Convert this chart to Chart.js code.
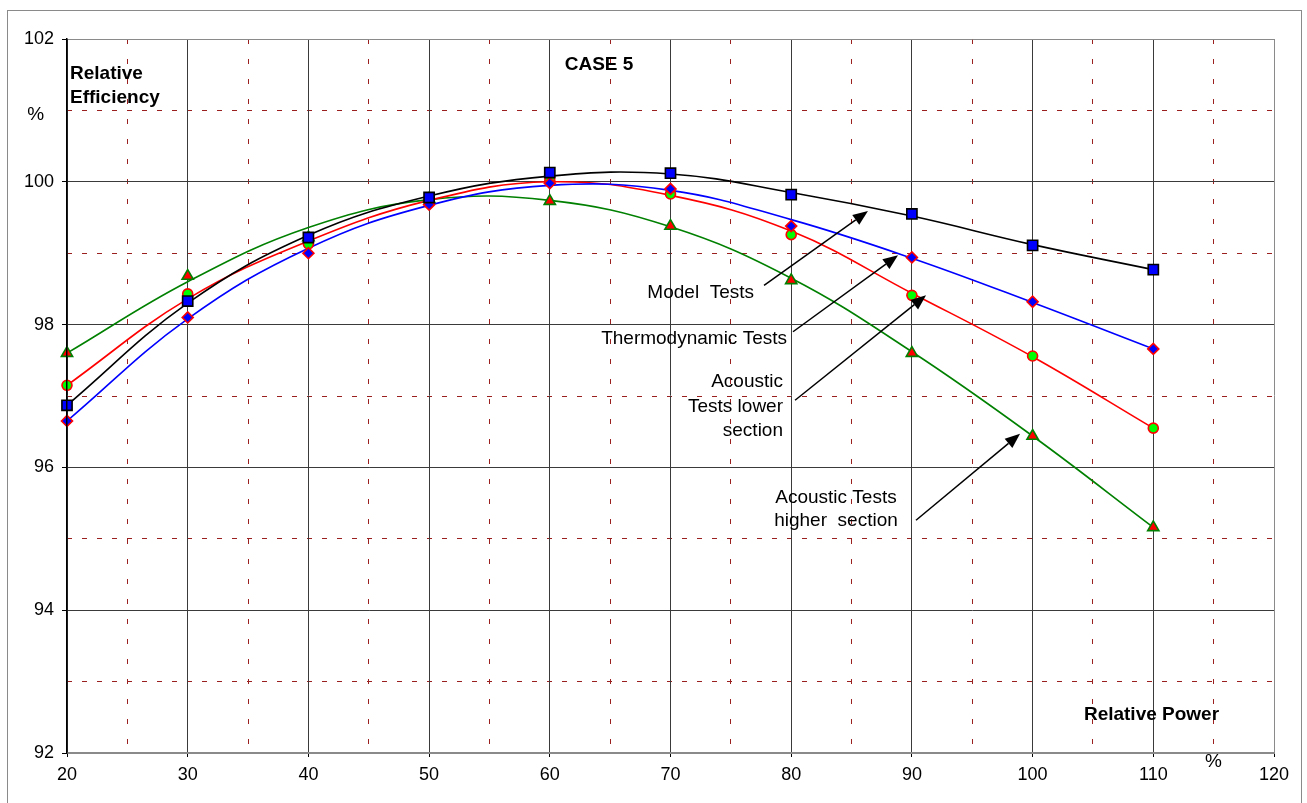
<!DOCTYPE html>
<html>
<head>
<meta charset="utf-8">
<script src="https://cdn.jsdelivr.net/npm/chart.js@4.4.0/dist/chart.umd.min.js"></script>
<style>
html,body{margin:0;padding:0;background:#fff;}
#wrap{position:relative;width:1307px;height:803px;}
</style>
</head>
<body>
<div id="wrap"><canvas id="c" width="1307" height="803"></canvas></div>
<script>
// ---- data ----
const relativePower = [20, 30, 40, 50, 60, 70, 80, 90, 100, 110];

// measured points (markers)
const modelTests      = [96.87, 98.33, 99.22, 99.78, 100.13, 100.12, 99.82, 99.55, 99.11, 98.77];
const thermoTests     = [96.65, 98.10, 99.00, 99.68, 99.98, 99.90, 99.38, 98.94, 98.32, 97.66];
const acousticLower   = [97.15, 98.43, 99.13, 99.75, 100.02, 99.83, 99.26, 98.41, 97.56, 96.55];
const acousticHigher  = [97.60, 98.68, 99.22, 99.76, 99.73, 99.38, 98.62, 97.60, 96.44, 95.16];

// smoothed trend curves (read at the same x positions)
const modelCurve      = [96.87, 98.30, 99.25, 99.80, 100.08, 100.11, 99.85, 99.52, 99.12, 98.77];
const thermoCurve     = [96.65, 98.08, 99.07, 99.67, 99.95, 99.88, 99.47, 98.93, 98.31, 97.66];
const lowerCurve      = [97.15, 98.36, 99.17, 99.74, 100.00, 99.81, 99.31, 98.44, 97.55, 96.55];
const higherCurve     = [97.60, 98.60, 99.36, 99.75, 99.74, 99.37, 98.65, 97.62, 96.44, 95.16];

const xTicks = [20, 30, 40, 50, 60, 70, 80, 90, 100, 110, 120];
const yTicks = [92, 94, 96, 98, 100, 102];

// annotation texts (in data units)
const textNotes = [
  {t: 'Relative',   x: 20.25, y: 101.52, align: 'left',  bold: true},
  {t: 'Efficiency', x: 20.25, y: 101.17, align: 'left',  bold: true},
  {t: '%',          x: 17.40, y: 100.94, align: 'center', bold: false},
  {t: 'CASE 5',     x: 64.08, y: 101.64, align: 'center', bold: true},
  {t: 'Relative Power', x: 109.85, y: 92.53, align: 'center', bold: true},
  {t: '%',          x: 114.99, y: 91.88, align: 'center', bold: false},
  {t: 'Model  Tests', x: 76.92, y: 98.44, align: 'right', bold: false},
  {t: 'Thermodynamic Tests', x: 79.65, y: 97.80, align: 'right', bold: false},
  {t: 'Acoustic',    x: 79.32, y: 97.20, align: 'right', bold: false},
  {t: 'Tests lower', x: 79.32, y: 96.85, align: 'right', bold: false},
  {t: 'section',     x: 79.32, y: 96.51, align: 'right', bold: false},
  {t: 'Acoustic Tests',   x: 83.71, y: 95.58, align: 'center', bold: false},
  {t: 'higher  section',  x: 83.71, y: 95.25, align: 'center', bold: false}
];
const arrowNotes = [
  {x1: 77.75, y1: 98.55, x2: 86.36, y2: 99.59},
  {x1: 80.15, y1: 97.90, x2: 88.85, y2: 98.97},
  {x1: 80.32, y1: 96.94, x2: 91.17, y2: 98.41},
  {x1: 90.34, y1: 95.26, x2: 98.96, y2: 96.47}
];

const FONT = "'Liberation Sans', Arial, Helvetica, sans-serif";
const pts = arr => relativePower.map((x, i) => ({x: x, y: arr[i]}));

const frameAndNotes = {
  id: 'frameAndNotes',
  beforeDraw(chart) {
    const ctx = chart.ctx;
    ctx.save();
    ctx.fillStyle = '#fff';
    ctx.fillRect(0, 0, chart.width, chart.height);
    ctx.strokeStyle = '#8a8a8a';
    ctx.lineWidth = 1;
    ctx.strokeRect(7.5, 10.5, 1294, 800);
    ctx.restore();
  },
  afterDraw(chart) {
    const ctx = chart.ctx;
    const xs = chart.scales.x, ys = chart.scales.y;
    ctx.save();
    ctx.fillStyle = '#000';
    ctx.textBaseline = 'middle';
    textNotes.forEach(n => {
      ctx.font = (n.bold ? 'bold ' : '') + '19px ' + FONT;
      ctx.textAlign = n.align;
      ctx.fillText(n.t, xs.getPixelForValue(n.x), ys.getPixelForValue(n.y));
    });
    ctx.strokeStyle = '#000';
    ctx.lineWidth = 1.5;
    arrowNotes.forEach(a => {
      const px1 = xs.getPixelForValue(a.x1), py1 = ys.getPixelForValue(a.y1);
      const px2 = xs.getPixelForValue(a.x2), py2 = ys.getPixelForValue(a.y2);
      const ang = Math.atan2(py2 - py1, px2 - px1);
      const L = 15, W = 6;
      const bx = px2 - L * Math.cos(ang), by = py2 - L * Math.sin(ang);
      ctx.beginPath();
      ctx.moveTo(px1, py1);
      ctx.lineTo(bx, by);
      ctx.stroke();
      ctx.beginPath();
      ctx.moveTo(px2, py2);
      ctx.lineTo(bx + W * Math.sin(ang), by - W * Math.cos(ang));
      ctx.lineTo(bx - W * Math.sin(ang), by + W * Math.cos(ang));
      ctx.closePath();
      ctx.fill();
    });
    ctx.restore();
  }
};

const lineDs = (data, color) => ({
  type: 'line', data: pts(data), borderColor: color, borderWidth: 1.6,
  pointRadius: 0, tension: 0.4, fill: false, clip: false
});
const markDs = (data, style, fill, edge, r) => ({
  type: 'line', data: pts(data), showLine: false, pointStyle: style,
  pointRadius: r, pointBackgroundColor: fill, pointBorderColor: edge,
  pointBorderWidth: 1.6, borderColor: edge, backgroundColor: fill, clip: false
});

new Chart(document.getElementById('c'), {
  type: 'line',
  data: {
    datasets: [
      markDs(modelTests, 'rect', '#0000FF', '#000000', 7.2),
      markDs(thermoTests, 'rectRot', '#0000FF', '#FF0000', 5.5),
      markDs(acousticLower, 'circle', '#00FF00', '#FF0000', 5),
      markDs(acousticHigher, 'triangle', '#FF0000', '#008000', 6.5),
      lineDs(modelCurve, '#000000'),
      lineDs(thermoCurve, '#0000FF'),
      lineDs(lowerCurve, '#FF0000'),
      lineDs(higherCurve, '#008000')
    ]
  },
  options: {
    responsive: false,
    devicePixelRatio: 1,
    animation: false,
    layout: {padding: {top: 39, right: 33, left: 0, bottom: 0}},
    plugins: {legend: {display: false}, tooltip: {enabled: false}, title: {display: false}},
    scales: {
      x: {
        type: 'linear', position: 'bottom', min: 20, max: 120, weight: 2,
        afterBuildTicks: s => { s.ticks = xTicks.map(v => ({value: v})); },
        afterFit: s => { s.height = 50; },
        ticks: {color: '#000', font: {family: FONT, size: 18}, padding: 7, maxRotation: 0},
        grid: {
          color: c => (c.tick && c.tick.value === 120) ? '#8a8a8a' : '#3a3a3a',
          lineWidth: 1, tickLength: 4, tickColor: '#000', z: 0
        },
        border: {display: true, color: '#8a8a8a', width: 2, z: 1}
      },
      xMinor: {
        type: 'linear', position: 'bottom', min: 20, max: 120, weight: 1,
        ticks: {display: false, stepSize: 5},
        afterFit: s => { s.height = 0; },
        grid: {
          drawTicks: false,
          color: c => (c.tick && c.tick.value % 10 === 5) ? '#9a2020' : 'rgba(0,0,0,0)',
          lineWidth: 1
        },
        border: {display: false, dash: [5, 15]}
      },
      y: {
        type: 'linear', position: 'left', min: 92, max: 102, weight: 2,
        afterBuildTicks: s => { s.ticks = yTicks.map(v => ({value: v})); },
        afterFit: s => { s.width = 67; },
        ticks: {color: '#000', font: {family: FONT, size: 18}, padding: 8},
        grid: {
          color: c => (c.tick && c.tick.value === 102) ? '#8a8a8a' : '#3a3a3a',
          lineWidth: 1, tickLength: 5, tickColor: '#000', z: 0
        },
        border: {display: true, color: '#000', width: 1.5, z: 1}
      },
      yMinor: {
        type: 'linear', position: 'left', min: 92, max: 102, weight: 1,
        ticks: {display: false, stepSize: 1},
        afterFit: s => { s.width = 0; },
        grid: {
          drawTicks: false,
          color: c => (c.tick && Math.abs(c.tick.value % 2) === 1) ? '#9a2020' : 'rgba(0,0,0,0)',
          lineWidth: 1
        },
        border: {display: false, dash: [5, 10]}
      }
    }
  },
  plugins: [frameAndNotes]
});
</script>
</body>
</html>
